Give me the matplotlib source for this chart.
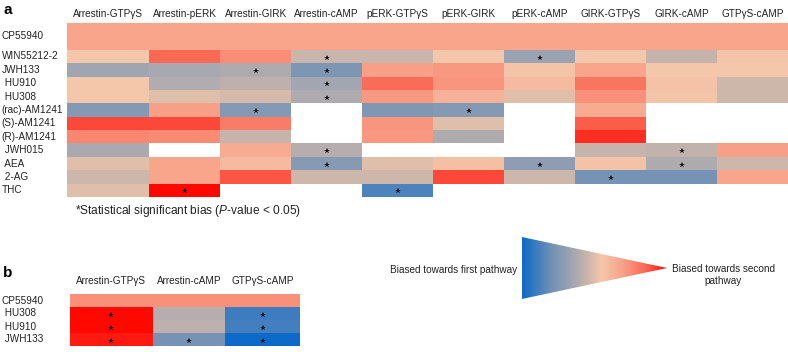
import numpy as np
import matplotlib
matplotlib.use("Agg")
import matplotlib.pyplot as plt
import matplotlib.transforms as mtransforms
from matplotlib.colors import LinearSegmentedColormap
from matplotlib.patches import Polygon

nan = np.nan

pathways_a = ["Arrestin-GTPγS", "Arrestin-pERK", "Arrestin-GIRK", "Arrestin-cAMP",
              "pERK-GTPγS", "pERK-GIRK", "pERK-cAMP", "GIRK-GTPγS", "GIRK-cAMP",
              "GTPγS-cAMP"]
compounds_a = ["CP55940", "WIN55212-2", "JWH133", " HU910", " HU308", "(rac)-AM1241",
               "(S)-AM1241", "(R)-AM1241", " JWH015", " AEA", " 2-AG", "THC"]
# bias score 0 = first pathway (blue) ... 1 = second pathway (red), read by colour
bias_a = [
    [0.68, 0.68, 0.68, 0.68, 0.68, 0.68, 0.68, 0.68, 0.68, 0.68],
    [0.55, 0.85, 0.75, 0.45, 0.45, 0.55, 0.33, 0.55, 0.44, 0.56],
    [0.34, 0.36, 0.38, 0.24, 0.70, 0.72, 0.56, 0.68, 0.55, 0.55],
    [0.55, 0.39, 0.42, 0.35, 0.84, 0.73, 0.60, 0.82, 0.57, 0.46],
    [0.55, 0.50, 0.48, 0.38, 0.72, 0.63, 0.50, 0.74, 0.56, 0.46],
    [0.26, 0.70, 0.26, nan, 0.25, 0.26, nan, 0.66, nan, nan],
    [0.90, 0.90, 0.80, nan, 0.73, 0.50, nan, 0.87, nan, nan],
    [0.77, 0.76, 0.44, nan, 0.72, 0.38, nan, 0.94, nan, nan],
    [0.37, nan, 0.66, 0.40, nan, nan, nan, 0.44, 0.43, 0.70],
    [0.50, 0.68, 0.60, 0.27, 0.50, 0.58, 0.29, 0.57, 0.38, 0.46],
    [0.46, 0.68, 0.88, 0.46, 0.46, 0.90, 0.46, 0.22, 0.22, 0.68],
    [0.50, 1.00, nan, nan, 0.13, nan, nan, nan, nan, nan],
]
stars_a = [("WIN55212-2", "Arrestin-cAMP"), ("WIN55212-2", "pERK-cAMP"),
           ("JWH133", "Arrestin-GIRK"), ("JWH133", "Arrestin-cAMP"),
           (" HU910", "Arrestin-cAMP"), (" HU308", "Arrestin-cAMP"),
           ("(rac)-AM1241", "Arrestin-GIRK"), ("(rac)-AM1241", "pERK-GIRK"),
           (" JWH015", "Arrestin-cAMP"), (" JWH015", "GIRK-cAMP"),
           (" AEA", "Arrestin-cAMP"), (" AEA", "pERK-cAMP"), (" AEA", "GIRK-cAMP"),
           (" 2-AG", "GIRK-GTPγS"), ("THC", "Arrestin-pERK"), ("THC", "pERK-GTPγS")]

pathways_b = ["Arrestin-GTPγS", "Arrestin-cAMP", "GTPγS-cAMP"]
compounds_b = ["CP55940", " HU308", " HU910", " JWH133"]
bias_b = [
    [0.74, 0.74, 0.74],
    [1.00, 0.40, 0.10],
    [1.00, 0.42, 0.11],
    [0.97, 0.22, 0.00],
]
stars_b = [(" HU308", "Arrestin-GTPγS"), (" HU308", "GTPγS-cAMP"),
           (" HU910", "Arrestin-GTPγS"), (" HU910", "GTPγS-cAMP"),
           (" JWH133", "Arrestin-GTPγS"), (" JWH133", "Arrestin-cAMP"),
           (" JWH133", "GTPγS-cAMP")]

plt.rcParams["font.family"] = ["Liberation Sans", "DejaVu Sans"]
plt.rcParams["mathtext.fontset"] = "custom"
plt.rcParams["mathtext.it"] = "Liberation Sans:italic"
plt.rcParams["mathtext.rm"] = "Liberation Sans"

cmap = LinearSegmentedColormap.from_list("bias", [
    (0.0, "#0d6ac8"), (0.2, "#6f90b5"), (0.33, "#9ba3b2"), (0.45, "#c9b5ab"),
    (0.55, "#f4c7aa"), (0.7, "#f8a088"), (0.85, "#fa6a55"), (1.0, "#ff0800")])

W, H = 788, 352
fig = plt.figure(figsize=(W / 100, H / 100), dpi=100)


def fig_rect(x0, y0, x1, y1):
    return [x0 / W, 1 - y1 / H, (x1 - x0) / W, (y1 - y0) / H]


def draw_heatmap(ax, values, compounds, pathways, stars, row_heights, col_widths,
                 label_pad):
    vals = np.ma.masked_invalid(np.array(values, dtype=float))
    y_edges = np.concatenate([[0], np.cumsum(row_heights)])
    x_edges = np.concatenate([[0], np.cumsum(col_widths)])
    ax.pcolormesh(x_edges, y_edges, vals, cmap=cmap, vmin=0, vmax=1,
                  edgecolors="none", antialiased=False)
    ax.set_xlim(0, x_edges[-1])
    ax.set_ylim(y_edges[-1], 0)
    y_mid = (y_edges[:-1] + y_edges[1:]) / 2
    x_mid = (x_edges[:-1] + x_edges[1:]) / 2
    for comp, path in stars:
        r = compounds.index(comp)
        c = pathways.index(path)
        ax.plot(x_mid[c], y_mid[r] + 0.08, marker="*", ms=4.4, color="#111111",
                mew=0)
    ax.xaxis.tick_top()
    ax.set_xticks(x_mid)
    ax.set_xticklabels(pathways, fontsize=7.2, color="#222222")
    ax.tick_params(length=0, pad=label_pad)
    ax.set_yticks([])
    for s in ax.spines.values():
        s.set_visible(False)
    trans = mtransforms.blended_transform_factory(fig.transFigure, ax.transData)
    for name, yc in zip(compounds, y_mid):
        ax.text(1.5 / W, yc, name, transform=trans, ha="left", va="center",
                fontsize=7.2, color="#222222")


ax_a = fig.add_axes(fig_rect(67, 23, 788, 197))
draw_heatmap(ax_a, bias_a, compounds_a, pathways_a, stars_a,
             [2] + [1] * (len(compounds_a) - 1),
             [1.16] + [1] * (len(pathways_a) - 1), 3)

ax_b = fig.add_axes(fig_rect(70, 294, 300, 346))
draw_heatmap(ax_b, bias_b, compounds_b, pathways_b, stars_b,
             [1] * len(compounds_b), [1.15, 1, 1.04], 5.5)

fig.text(3 / W, 1 - 10 / H, "a", fontsize=11, fontweight="bold", va="center")
fig.text(3 / W, 1 - 273 / H, "b", fontsize=11, fontweight="bold", va="center")
fig.text(75 / W, 1 - 211 / H,
         r"*Statistical significant bias ($\it{P}$-value < 0.05)",
         fontsize=8.6, va="center", color="#222222")

# gradient triangle legend
ax_t = fig.add_axes(fig_rect(522, 237, 667, 299))
grad = np.linspace(0, 1, 256).reshape(1, -1)
im = ax_t.imshow(grad, cmap=cmap, aspect="auto", extent=[0, 1, 0, 1])
tri = Polygon([(0, 0), (0, 1), (1, 0.5)], closed=True, transform=ax_t.transData)
im.set_clip_path(tri)
ax_t.set_xlim(0, 1)
ax_t.set_ylim(0, 1)
ax_t.axis("off")

fig.text(517 / W, 1 - 270 / H, "Biased towards first pathway", ha="right",
         va="center", fontsize=7.2, color="#222222")
fig.text(723 / W, 1 - 275 / H, "Biased towards second\npathway", ha="center",
         va="center", fontsize=7.2, color="#222222", linespacing=1.25)

fig.savefig("out.png", dpi=100, facecolor="white")
